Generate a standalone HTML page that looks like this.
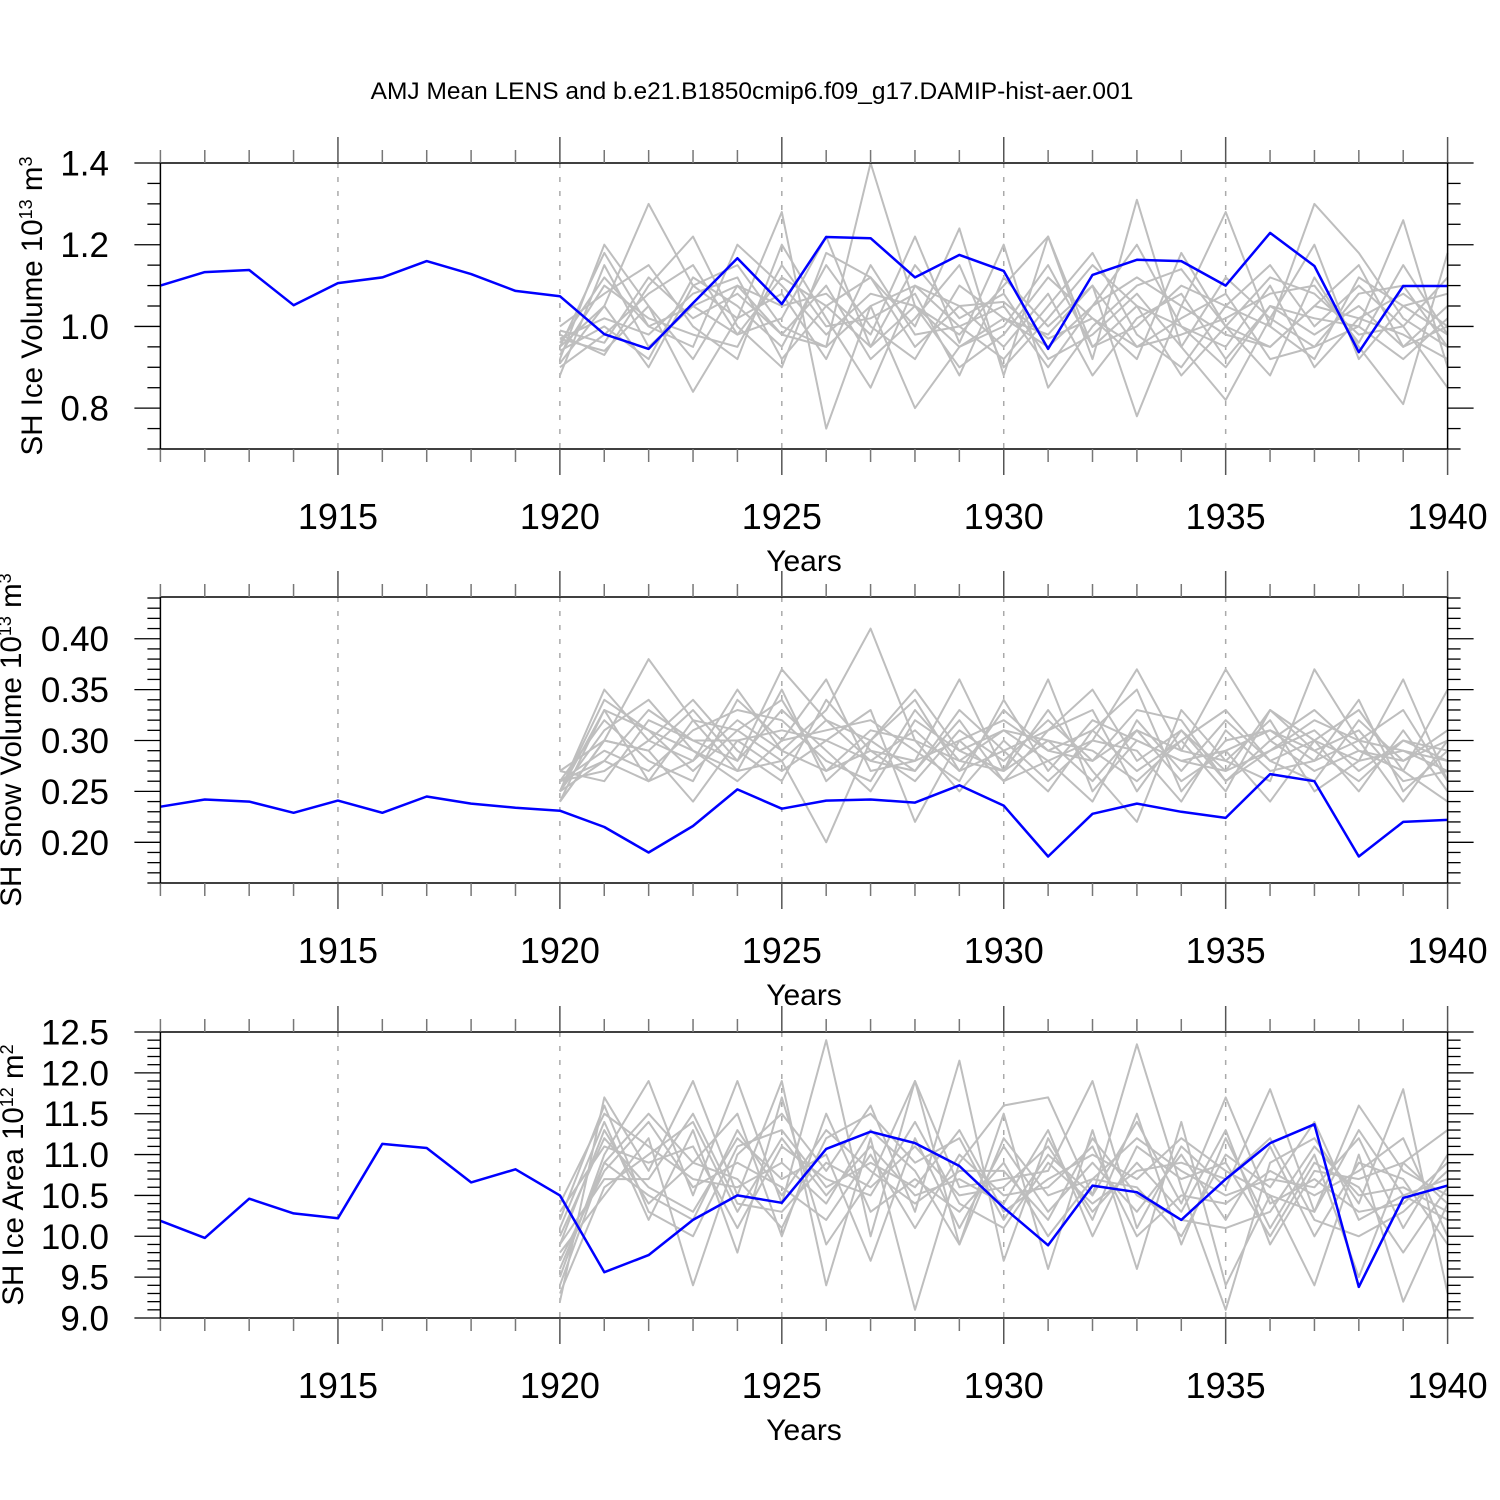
<!DOCTYPE html>
<html><head><meta charset="utf-8"><style>
html,body{margin:0;padding:0;background:#fff;}
svg{display:block;font-family:"Liberation Sans",Arial,sans-serif;}
</style></head><body>
<svg id="chart" width="1500" height="1500" viewBox="0 0 1500 1500" xmlns="http://www.w3.org/2000/svg">
<rect width="1500" height="1500" fill="#fff"/>
<text x="752" y="99" font-size="24.5" text-anchor="middle">AMJ Mean LENS and b.e21.B1850cmip6.f09_g17.DAMIP-hist-aer.001</text>
</svg>
<script>
const years = [1911,1912,1913,1914,1915,1916,1917,1918,1919,1920,1921,1922,1923,1924,1925,1926,1927,1928,1929,1930,1931,1932,1933,1934,1935,1936,1937,1938,1939,1940];
const ensYears = [1920,1921,1922,1923,1924,1925,1926,1927,1928,1929,1930,1931,1932,1933,1934,1935,1936,1937,1938,1939,1940];
const xTickLabels = [1915,1920,1925,1930,1935,1940];

const iceVolBlue = [1.10,1.133,1.138,1.052,1.106,1.12,1.16,1.128,1.087,1.074,0.981,0.945,1.057,1.167,1.055,1.219,1.216,1.12,1.175,1.136,0.945,1.126,1.163,1.16,1.10,1.229,1.148,0.937,1.099,1.099];
const iceVolEns = [
[0.95,1.05,1.30,1.10,1.15,1.00,0.95,1.40,1.05,0.98,1.10,1.22,0.95,1.05,1.00,0.90,1.05,0.98,1.05,0.95,1.00],
[0.92,1.20,1.05,0.84,1.02,1.28,0.75,1.05,0.80,0.95,1.02,0.98,1.10,0.78,1.05,1.28,1.00,1.30,1.18,1.02,0.95],
[0.98,0.93,1.10,1.22,1.00,0.90,1.18,1.12,1.00,1.24,0.88,1.22,0.92,1.31,0.95,0.82,1.02,0.95,1.00,1.26,0.90],
[0.88,1.15,0.95,1.05,1.10,1.05,1.08,0.98,1.22,0.96,1.20,0.85,1.00,1.10,1.14,1.00,0.88,1.12,0.95,0.81,1.18],
[1.00,1.08,1.15,1.00,0.92,1.20,1.02,0.85,1.10,1.00,0.92,1.05,1.18,0.98,0.90,1.05,1.15,1.00,1.10,1.00,0.85],
[0.94,1.00,0.92,1.12,1.05,0.95,1.15,1.00,0.92,1.10,1.02,0.95,1.05,1.20,1.00,0.95,1.10,0.90,1.02,1.08,1.00],
[0.96,1.12,1.00,0.95,1.20,1.10,0.98,1.08,1.05,0.90,0.98,1.12,1.02,0.92,1.18,1.00,0.95,1.05,1.15,0.95,1.05],
[0.90,0.98,1.08,1.15,0.98,1.02,1.22,0.95,1.15,1.02,1.08,0.92,0.98,1.08,0.95,1.12,1.02,1.20,0.92,1.05,0.98],
[0.97,1.02,0.98,1.08,1.12,0.92,1.05,1.12,0.95,1.05,0.95,1.08,0.88,1.02,1.08,0.92,1.05,1.02,1.00,0.92,1.02],
[0.93,1.10,1.02,0.98,0.95,1.15,1.00,1.02,1.08,0.88,1.12,1.00,1.10,0.95,1.02,1.08,0.92,0.95,1.08,1.10,0.95],
[0.99,0.96,1.12,1.02,1.08,0.98,1.10,0.92,1.02,1.15,0.90,1.02,1.15,1.05,0.88,1.00,1.12,1.08,0.98,1.00,1.12],
[0.91,1.05,0.90,1.10,1.02,1.08,0.92,1.15,0.98,1.00,1.05,0.90,1.05,1.12,1.05,0.98,0.95,1.05,1.02,0.98,0.92],
[0.95,1.18,1.00,1.05,0.98,1.12,1.05,0.95,1.05,0.95,1.00,1.15,0.95,1.00,1.10,1.05,1.00,0.92,1.12,1.05,1.08],
[0.97,0.94,1.05,0.92,1.10,0.98,0.95,1.05,1.10,1.05,1.06,0.97,1.02,0.95,0.98,1.02,1.08,1.10,0.96,1.15,0.98]];
const iceVolTicks = ["0.8","1.0","1.2","1.4"];

const snowBlue = [0.235,0.242,0.240,0.229,0.241,0.229,0.245,0.238,0.234,0.231,0.215,0.190,0.216,0.252,0.233,0.241,0.242,0.239,0.256,0.236,0.186,0.228,0.238,0.230,0.224,0.267,0.260,0.186,0.220,0.222];
const snowEns = [
[0.25,0.35,0.30,0.28,0.32,0.29,0.33,0.41,0.30,0.28,0.27,0.36,0.25,0.30,0.28,0.27,0.33,0.30,0.28,0.36,0.26],
[0.24,0.30,0.38,0.32,0.27,0.35,0.26,0.30,0.35,0.29,0.31,0.28,0.30,0.37,0.29,0.37,0.30,0.27,0.29,0.27,0.35],
[0.26,0.32,0.28,0.26,0.34,0.30,0.36,0.27,0.28,0.36,0.27,0.33,0.27,0.22,0.33,0.28,0.26,0.37,0.30,0.29,0.27],
[0.25,0.28,0.33,0.30,0.30,0.27,0.30,0.33,0.22,0.30,0.32,0.29,0.31,0.35,0.25,0.30,0.31,0.28,0.34,0.25,0.29],
[0.27,0.30,0.29,0.33,0.28,0.37,0.32,0.28,0.31,0.27,0.29,0.31,0.35,0.28,0.31,0.27,0.29,0.31,0.27,0.30,0.28],
[0.24,0.33,0.31,0.27,0.31,0.28,0.20,0.30,0.27,0.32,0.26,0.28,0.24,0.32,0.27,0.32,0.28,0.26,0.32,0.28,0.30],
[0.26,0.29,0.27,0.31,0.33,0.32,0.28,0.26,0.33,0.28,0.31,0.30,0.29,0.26,0.30,0.25,0.33,0.29,0.31,0.26,0.27],
[0.25,0.31,0.34,0.29,0.26,0.30,0.31,0.32,0.29,0.26,0.34,0.27,0.32,0.30,0.28,0.29,0.24,0.30,0.25,0.31,0.25],
[0.26,0.27,0.30,0.34,0.29,0.26,0.34,0.29,0.26,0.31,0.28,0.32,0.28,0.33,0.32,0.26,0.30,0.33,0.29,0.28,0.31],
[0.25,0.33,0.26,0.28,0.35,0.29,0.27,0.31,0.30,0.25,0.30,0.26,0.30,0.29,0.24,0.31,0.27,0.28,0.30,0.33,0.26],
[0.27,0.26,0.32,0.30,0.28,0.33,0.29,0.25,0.32,0.29,0.27,0.30,0.26,0.31,0.29,0.28,0.32,0.25,0.28,0.29,0.28],
[0.24,0.30,0.29,0.24,0.30,0.31,0.30,0.28,0.27,0.33,0.29,0.25,0.31,0.27,0.30,0.33,0.28,0.30,0.33,0.27,0.24],
[0.25,0.34,0.31,0.29,0.27,0.28,0.32,0.30,0.34,0.27,0.33,0.29,0.28,0.31,0.26,0.29,0.31,0.29,0.26,0.30,0.29],
[0.26,0.28,0.26,0.32,0.31,0.34,0.27,0.29,0.28,0.30,0.26,0.31,0.33,0.25,0.31,0.26,0.29,0.32,0.30,0.24,0.30]];
const snowTicks = ["0.20","0.25","0.30","0.35","0.40"];

const areaBlue = [10.19,9.98,10.46,10.28,10.22,11.13,11.08,10.66,10.82,10.50,9.56,9.77,10.20,10.50,10.41,11.07,11.28,11.14,10.86,10.35,9.89,10.62,10.54,10.20,10.70,11.14,11.37,9.38,10.47,10.62];
const areaEns = [
[9.2,11.7,10.8,11.9,10.5,11.9,9.4,11.2,9.1,10.9,11.6,11.7,10.5,12.35,10.6,9.1,10.9,11.2,10.4,11.8,9.3],
[9.5,11.0,11.9,10.5,11.9,10.4,12.4,10.0,11.9,10.6,10.7,10.8,11.9,10.1,11.1,10.6,11.8,10.3,11.6,10.8,10.5],
[9.8,10.5,11.2,9.4,11.0,11.5,10.8,11.6,10.3,12.15,9.7,11.2,10.2,11.5,9.9,11.2,10.1,11.0,9.5,10.9,11.3],
[10.1,11.4,10.2,11.3,9.8,11.7,9.9,10.7,11.9,9.9,11.5,9.6,11.3,9.6,11.4,9.4,10.5,9.4,11.0,9.2,10.4],
[9.6,10.9,11.5,10.9,10.7,10.1,11.2,11.5,10.9,11.2,10.2,11.0,10.5,11.4,10.4,11.7,10.4,10.7,10.3,10.4,10.9],
[10.0,11.2,10.6,10.3,11.2,10.7,11.0,9.7,11.2,10.1,11.1,10.3,10.9,10.3,11.0,10.2,11.1,10.0,10.9,10.7,9.9],
[9.3,10.6,11.0,11.4,10.3,11.2,10.5,11.1,10.5,10.7,10.4,11.3,10.0,11.1,10.7,10.9,10.0,10.9,10.6,9.8,10.6],
[9.9,11.3,10.4,10.9,11.5,10.0,11.5,10.3,10.7,10.3,10.9,10.0,10.7,10.6,10.0,11.0,10.6,11.4,10.2,10.5,10.2],
[9.7,10.8,11.4,10.6,10.9,10.6,10.2,11.0,10.1,11.0,10.5,10.6,11.1,10.0,10.5,10.4,10.8,10.5,10.8,11.2,10.0],
[10.3,11.1,10.9,11.1,10.1,11.1,10.7,10.5,11.4,10.4,10.1,10.9,10.4,10.8,10.9,10.7,11.2,10.2,10.0,10.3,10.8],
[9.4,10.9,10.5,10.2,11.3,10.5,11.3,10.8,10.4,10.8,10.8,10.2,11.2,10.5,10.2,10.1,10.3,11.1,10.5,10.6,10.3],
[10.4,11.5,11.1,10.7,10.6,10.9,10.4,11.3,10.8,9.9,11.2,10.5,10.7,11.2,10.8,10.5,10.7,10.6,11.2,10.1,11.0],
[9.9,10.7,10.7,11.5,10.4,10.3,10.9,10.6,11.1,10.5,10.6,11.1,10.3,10.9,10.3,11.3,9.9,10.8,10.7,10.9,10.4],
[10.2,11.6,10.3,10.0,11.1,11.3,10.6,10.9,10.6,11.3,10.3,10.7,11.0,10.7,11.2,10.8,10.5,10.3,11.3,10.5,10.7]];
const areaTicks = ["9.0","9.5","10.0","10.5","11.0","11.5","12.0","12.5"];

const NS = "http://www.w3.org/2000/svg";
const svg = document.getElementById('chart');
const X0 = 160.4, X1 = 1447.6;
const xScale = y => X0 + (y - 1911) / (1940 - 1911) * (X1 - X0);
function mk(tag, attrs, parent) {
  const e = document.createElementNS(NS, tag);
  for (const k in attrs) e.setAttribute(k, attrs[k]);
  (parent || svg).appendChild(e);
  return e;
}

function panel(opt) {
  const g = mk('g', {});
  
  
  const top = opt.top, bot = opt.top + 286;
  const yScale = v => bot - (v - opt.ymin) / (opt.ymax - opt.ymin) * (bot - top);
  for (const yr of [1915,1920,1925,1930,1935]) {
    const l = mk('line', {x1: xScale(yr), x2: xScale(yr), y1: top, y2: bot, stroke: '#aaa', 'stroke-width': 1.5, 'stroke-dasharray': '5,9'}, g);
    
    
  }
  opt.ens.forEach((m, i) => {
    const p = mk('polyline', {fill: 'none', stroke: '#bebebe', 'stroke-width': 2, 'stroke-linejoin': 'round',
      points: m.map((v, j) => xScale(ensYears[j]).toFixed(1) + ',' + yScale(v).toFixed(1)).join(' ')}, g);
    
    
  });
  const b = mk('polyline', {fill: 'none', stroke: '#0000ff', 'stroke-width': 2.5, 'stroke-linejoin': 'round',
    points: opt.blue.map((v, j) => xScale(years[j]).toFixed(1) + ',' + yScale(v).toFixed(1)).join(' ')}, g);
  
  
  const fr = mk('rect', {x: X0, y: top, width: X1 - X0, height: bot - top, fill: 'none', stroke: '#000', 'stroke-width': 1.5}, g);
  
  
  for (let yr = 1911; yr <= 1940; yr++) {
    const L = yr % 5 === 0 ? 26 : 13;
    const c = yr % 5 === 0 ? '#555' : '#777';
    mk('line', {x1: xScale(yr), x2: xScale(yr), y1: top, y2: top - L, stroke: c, 'stroke-width': 1.5}, g);
    mk('line', {x1: xScale(yr), x2: xScale(yr), y1: bot, y2: bot + L, stroke: c, 'stroke-width': 1.5}, g);
  }
  xTickLabels.forEach(yr => {
    const t = mk('text', {x: xScale(yr), y: bot + 80, 'font-size': 36, 'text-anchor': 'middle'}, g);
    t.textContent = yr;
    
    
  });
  const xt = mk('text', {x: 804, y: bot + 122, 'font-size': 30, 'text-anchor': 'middle'}, g);
  xt.textContent = 'Years';
  
  
  for (let k = 0; ; k++) {
    const v = opt.ymin + k * opt.minor;
    if (v > opt.ymax + 1e-9) break;
    const isMaj = Math.abs(Math.round((v - opt.majStart) / opt.major) * opt.major - (v - opt.majStart)) < 1e-6 && v >= opt.majStart - 1e-9;
    const L = isMaj ? 26 : 13;
    const y = yScale(v);
    mk('line', {x1: X0, x2: X0 - L, y1: y, y2: y, stroke: '#000', 'stroke-width': 1.3}, g);
    mk('line', {x1: X1, x2: X1 + L, y1: y, y2: y, stroke: '#000', 'stroke-width': 1.3}, g);
  }
  opt.ticks.forEach(s => {
    const t = mk('text', {x: 109, y: yScale(parseFloat(s)) + 12.5, 'font-size': 35, 'text-anchor': 'end'}, g);
    t.textContent = s;
    
    
  });
  const yt = mk('text', {transform: 'translate(' + opt.tx + ',' + opt.ty + ') rotate(-90)', 'font-size': 29.5, 'text-anchor': 'middle'}, g);
  
  
  const parts = [[opt.title + ' 10', 0], [opt.e1, 1], [' m', 0], [opt.e2, 1]];
  parts.forEach(([s, sup]) => {
    const ts = mk('tspan', sup ? {'font-size': 18, 'baseline-shift': 'super'} : {}, yt);
    ts.textContent = s;
  });
}

panel({name: 'ice-volume-panel', top: 163, ymin: 0.7, ymax: 1.4, minor: 0.05, major: 0.2, majStart: 0.8,
  ticks: iceVolTicks, blue: iceVolBlue, ens: iceVolEns, title: 'SH Ice Volume', e1: '13', e2: '3', tx: 42, ty: 306});
panel({name: 'snow-volume-panel', top: 597, ymin: 0.16, ymax: 0.441, minor: 0.01, major: 0.05, majStart: 0.20,
  ticks: snowTicks, blue: snowBlue, ens: snowEns, title: 'SH Snow Volume', e1: '13', e2: '3', tx: 21, ty: 740});
panel({name: 'ice-area-panel', top: 1032, ymin: 9.0, ymax: 12.5, minor: 0.1, major: 0.5, majStart: 9.0,
  ticks: areaTicks, blue: areaBlue, ens: areaEns, title: 'SH Ice Area', e1: '12', e2: '2', tx: 23, ty: 1175});
</script>
</body></html>
